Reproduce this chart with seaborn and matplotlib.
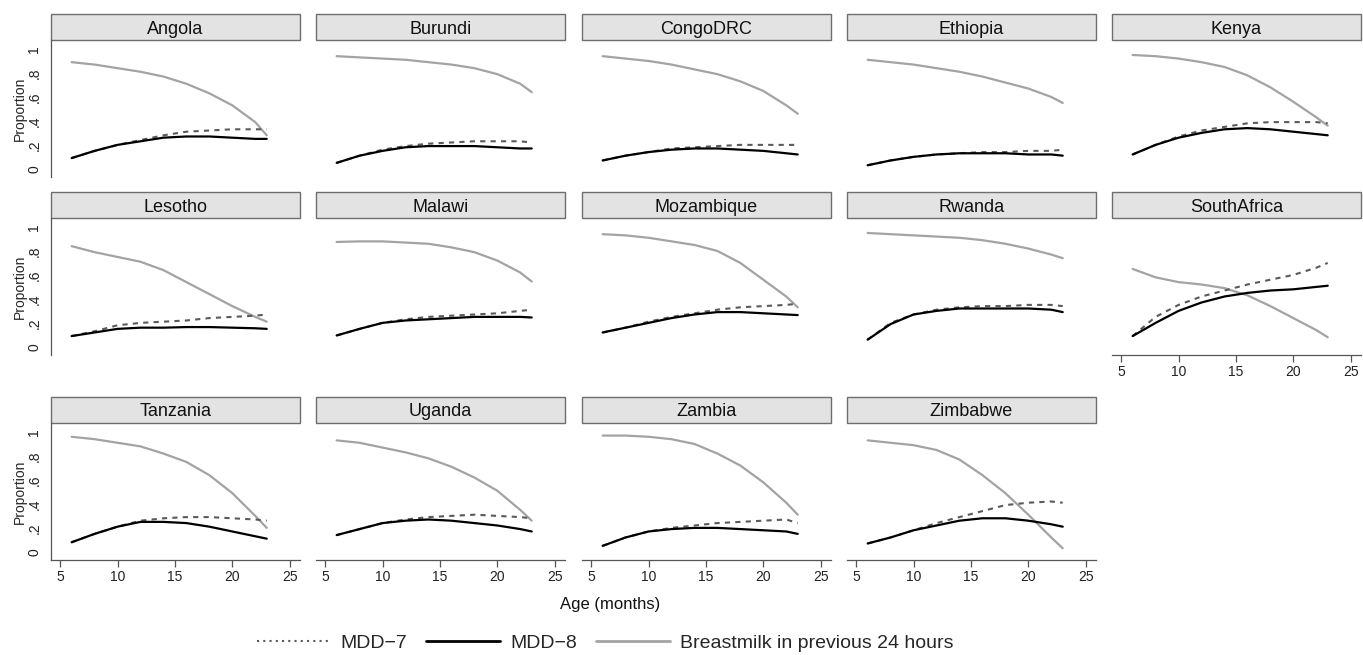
import numpy as np
import pandas as pd
import matplotlib
matplotlib.use("Agg")
import matplotlib.pyplot as plt
from matplotlib.patches import Rectangle
from matplotlib.lines import Line2D
import seaborn as sns

# data (proportion by age in months)
ages = [6, 8, 10, 12, 14, 16, 18, 20, 22, 23]
countries = ["Angola", "Burundi", "CongoDRC", "Ethiopia", "Kenya",
             "Lesotho", "Malawi", "Mozambique", "Rwanda", "SouthAfrica",
             "Tanzania", "Uganda", "Zambia", "Zimbabwe"]

mdd7 = {
    "Angola":      [.09, .15, .20, .24, .28, .31, .32, .33, .33, .33],
    "Burundi":     [.05, .11, .16, .19, .21, .22, .23, .23, .23, .22],
    "CongoDRC":    [.07, .11, .14, .17, .18, .19, .20, .20, .20, .20],
    "Ethiopia":    [.03, .07, .10, .12, .13, .14, .14, .15, .15, .16],
    "Kenya":       [.12, .20, .27, .32, .35, .38, .39, .39, .39, .38],
    "Lesotho":     [.09, .13, .18, .20, .21, .22, .24, .25, .26, .27],
    "Malawi":      [.095, .15, .20, .23, .25, .26, .27, .28, .30, .31],
    "Mozambique":  [.12, .16, .21, .25, .28, .31, .33, .34, .35, .36],
    "Rwanda":      [.06, .20, .27, .31, .33, .34, .34, .35, .35, .34],
    "SouthAfrica": [.09, .25, .35, .42, .47, .52, .56, .60, .66, .70],
    "Tanzania":    [.08, .15, .21, .26, .28, .29, .29, .28, .27, .26],
    "Uganda":      [.14, .19, .24, .27, .29, .30, .31, .30, .29, .28],
    "Zambia":      [.05, .12, .17, .20, .22, .24, .25, .26, .27, .24],
    "Zimbabwe":    [.07, .12, .18, .24, .29, .34, .39, .41, .42, .41],
}

mdd8 = {
    "Angola":      [.09, .15, .20, .23, .26, .27, .27, .26, .25, .25],
    "Burundi":     [.05, .11, .15, .18, .19, .19, .19, .18, .17, .17],
    "CongoDRC":    [.07, .11, .14, .16, .17, .17, .16, .15, .13, .12],
    "Ethiopia":    [.03, .07, .10, .12, .13, .13, .13, .12, .12, .11],
    "Kenya":       [.12, .20, .26, .30, .33, .34, .33, .31, .29, .28],
    "Lesotho":     [.09, .12, .15, .16, .16, .165, .165, .16, .155, .15],
    "Malawi":      [.095, .15, .20, .22, .23, .24, .25, .25, .25, .245],
    "Mozambique":  [.12, .16, .20, .24, .27, .29, .29, .28, .27, .265],
    "Rwanda":      [.06, .19, .27, .30, .32, .32, .32, .32, .31, .29],
    "SouthAfrica": [.09, .20, .30, .37, .42, .45, .47, .48, .50, .51],
    "Tanzania":    [.08, .15, .21, .25, .25, .24, .21, .17, .13, .11],
    "Uganda":      [.14, .19, .24, .26, .27, .26, .24, .22, .19, .17],
    "Zambia":      [.05, .12, .17, .19, .20, .20, .19, .18, .17, .15],
    "Zimbabwe":    [.07, .12, .18, .22, .26, .28, .28, .26, .23, .21],
}

bmilk = {
    "Angola":      [.89, .87, .84, .81, .77, .71, .63, .53, .39, .28],
    "Burundi":     [.94, .93, .92, .91, .89, .87, .84, .79, .71, .64],
    "CongoDRC":    [.94, .92, .90, .87, .83, .79, .73, .65, .53, .46],
    "Ethiopia":    [.91, .89, .87, .84, .81, .77, .72, .67, .60, .55],
    "Kenya":       [.95, .94, .92, .89, .85, .78, .68, .56, .43, .36],
    "Lesotho":     [.84, .79, .75, .71, .64, .54, .44, .34, .25, .21],
    "Malawi":      [.875, .88, .88, .87, .86, .83, .79, .72, .62, .545],
    "Mozambique":  [.94, .93, .91, .88, .85, .80, .70, .56, .42, .33],
    "Rwanda":      [.95, .94, .93, .92, .91, .89, .86, .82, .77, .74],
    "SouthAfrica": [.65, .58, .54, .52, .49, .43, .34, .24, .14, .08],
    "Tanzania":    [.96, .94, .91, .88, .82, .75, .64, .49, .30, .20],
    "Uganda":      [.93, .91, .87, .83, .78, .71, .62, .51, .35, .26],
    "Zambia":      [.97, .97, .96, .94, .90, .82, .72, .58, .41, .31],
    "Zimbabwe":    [.93, .91, .89, .85, .77, .64, .49, .31, .12, .03],
}

y_ticks = [0, .2, .4, .6, .8, 1]
y_ticklabels = ["0", ".2", ".4", ".6", ".8", "1"]
x_ticks = [5, 10, 15, 20, 25]

sns.set_style("white")
plt.rcParams['font.family'] = ['Liberation Sans', 'DejaVu Sans']

W, H = 1363, 655
fig = plt.figure(figsize=(W / 100, H / 100), dpi=100)

lefts = [51, 316, 582, 847, 1112]
tops = [40, 218, 423]
aw, ah = 249, 137
strip_h = 26

c7, c8, cb = "#5a5a5a", "#000000", "#a3a3a3"

for i, name in enumerate(countries):
    r, c = divmod(i, 5)
    ax = fig.add_axes([lefts[c] / W, (H - tops[r] - ah) / H, aw / W, ah / H])

    sns.lineplot(x=ages, y=bmilk[name], ax=ax, color=cb, lw=1.6)
    sns.lineplot(x=ages, y=mdd7[name], ax=ax, color=c7, lw=1.5, linestyle=(0, (2.5, 2.5)))
    sns.lineplot(x=ages, y=mdd8[name], ax=ax, color=c8, lw=1.6)

    ax.set_xlim(4.2, 25.9)
    ax.set_ylim(-0.068, 1.075)
    ax.set_xticks(x_ticks)
    ax.set_yticks(y_ticks)

    for s in ["top", "right"]:
        ax.spines[s].set_visible(False)
    for s in ["left", "bottom"]:
        ax.spines[s].set_color("#555555")
        ax.spines[s].set_linewidth(0.9)

    show_x = (r == 2) or name == "SouthAfrica"
    show_y = (c == 0)

    ax.tick_params(axis="both", length=5, width=0.9, color="#555555",
                   labelsize=10, pad=2, labelcolor="#222222")
    if show_y:
        ax.set_yticklabels(y_ticklabels, rotation=90, va="center")
        ax.set_ylabel("Proportion", fontsize=10, labelpad=0)
    else:
        ax.spines["left"].set_visible(False)
        ax.tick_params(axis="y", left=False, labelleft=False)
        ax.set_ylabel("")
    if show_x:
        ax.tick_params(axis="x", bottom=True)
    else:
        ax.spines["bottom"].set_visible(False)
        ax.tick_params(axis="x", bottom=False, labelbottom=False)
    ax.set_xlabel("")

    # strip title
    ax.add_patch(Rectangle((0, 1), 1, strip_h / ah, transform=ax.transAxes,
                           facecolor="#e3e3e3", edgecolor="#6e6e6e", lw=1,
                           clip_on=False))
    ax.text(0.5, 1 + strip_h / ah / 2, name, transform=ax.transAxes,
            ha="center", va="center_baseline", fontsize=13, color="#111111")

fig.text(610 / W, (H - 604) / H, "Age (months)", ha="center", va="center",
         fontsize=12, color="#111111")

handles = [
    Line2D([], [], color=c7, lw=1.5, linestyle=(0, (1, 2))),
    Line2D([], [], color=c8, lw=2),
    Line2D([], [], color=cb, lw=2),
]
labels = ["MDD\u22127", "MDD\u22128", "Breastmilk in previous 24 hours"]
fig.legend(handles, labels, loc="center", bbox_to_anchor=(605 / W, (H - 643) / H),
           ncol=3, frameon=False, fontsize=14, handlelength=3.8,
           columnspacing=1.0, handletextpad=0.5)

fig.savefig("out.png", dpi=100)
